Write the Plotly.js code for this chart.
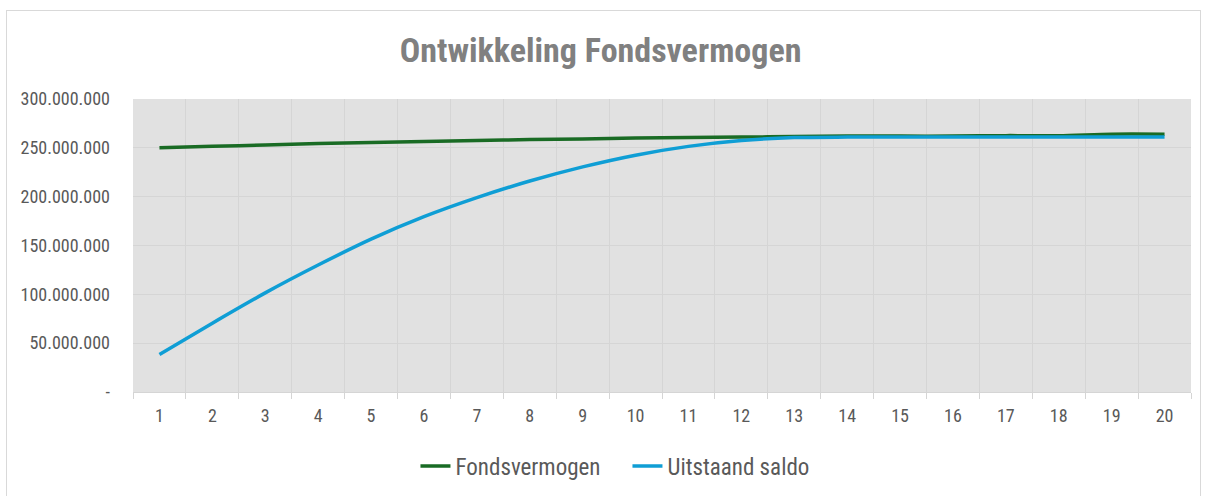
<!DOCTYPE html>
<html>
<head>
<meta charset="utf-8">
<script src="https://cdn.plot.ly/plotly-3.0.1.min.js"></script>
<style>
  html, body { margin: 0; padding: 0; background: #ffffff; }
  #chart { width: 1206px; height: 496px; }
  #frame { position: absolute; left: 6px; top: 10px; width: 1193px; height: 500px;
           border: 1px solid #d9d9d9; pointer-events: none; }
</style>
</head>
<body>
<div id="chart"></div>
<div id="frame"></div>
<script>
// Data
const years = ['1','2','3','4','5','6','7','8','9','10','11','12','13','14','15','16','17','18','19','20'];
const fondsvermogen = [250.0e6, 251.5e6, 253.0e6, 254.5e6, 255.5e6, 256.5e6, 257.5e6, 258.5e6, 259.0e6, 260.0e6,
                       260.5e6, 261.0e6, 261.5e6, 262.0e6, 262.0e6, 262.0e6, 262.5e6, 262.5e6, 264.0e6, 264.0e6];
const uitstaandSaldo = [38.5e6, 70.5e6, 101.5e6, 130.0e6, 156.5e6, 179.5e6, 199.0e6, 216.0e6, 230.5e6, 242.5e6,
                        251.5e6, 257.5e6, 260.5e6, 261.0e6, 261.0e6, 261.0e6, 261.0e6, 261.0e6, 261.0e6, 261.0e6];
const yTickVals = [0, 50e6, 100e6, 150e6, 200e6, 250e6, 300e6];
const yTickText = ['-', '50.000.000', '100.000.000', '150.000.000', '200.000.000', '250.000.000', '300.000.000'];

const FONT = '"Liberation Sans Narrow", "Roboto Condensed", "Liberation Sans", Arial, sans-serif';

const traces = [
  { type: 'scatter', mode: 'lines', name: 'Fondsvermogen', x: years, y: fondsvermogen,
    line: { color: '#196B24', width: 3.5, shape: 'spline', smoothing: 0.8 } },
  { type: 'scatter', mode: 'lines', name: 'Uitstaand saldo', x: years, y: uitstaandSaldo,
    line: { color: '#0F9ED5', width: 3.5, shape: 'spline', smoothing: 0.8 } }
];

const layout = {
  width: 1206, height: 496,
  margin: { l: 133, r: 15, t: 99, b: 104.3 },
  paper_bgcolor: '#ffffff',
  plot_bgcolor: '#e1e1e1',
  font: { family: FONT, size: 18, color: '#595959' },
  title: {
    text: '<b>Ontwikkeling Fondsvermogen</b>',
    font: { family: FONT, size: 34, color: '#808080' },
    xref: 'container', x: 0.498, xanchor: 'center',
    yref: 'container', y: 1 - 50 / 496, yanchor: 'middle'
  },
  xaxis: {
    type: 'category',
    range: [-0.5, years.length - 0.5],
    tickson: 'boundaries',
    showgrid: true, gridcolor: '#d5d5d5', gridwidth: 1,
    ticks: 'outside', ticklen: 6, tickcolor: '#d5d5d5',
    showline: true, linecolor: '#d5d5d5', linewidth: 1,
    tickfont: { family: FONT, size: 18, color: '#595959' },
    ticklabelstandoff: 7,
    fixedrange: true
  },
  yaxis: {
    range: [0, 300e6],
    tickvals: yTickVals, ticktext: yTickText,
    showgrid: true, gridcolor: '#d5d5d5', gridwidth: 1,
    zeroline: false, showline: false, ticks: '',
    tickfont: { family: FONT, size: 18, color: '#595959' },
    ticklabelstandoff: 22,
    fixedrange: true
  },
  showlegend: true,
  legend: {
    orientation: 'h',
    entrywidth: 167, entrywidthmode: 'pixels',
    xref: 'container', x: 0.3445, xanchor: 'left',
    yref: 'container', y: 1 - 466 / 496, yanchor: 'middle',
    font: { family: FONT, size: 23, color: '#595959' },
    bgcolor: 'rgba(0,0,0,0)'
  }
};

Plotly.newPlot('chart', traces, layout, { displayModeBar: false, staticPlot: true });
</script>
</body>
</html>
